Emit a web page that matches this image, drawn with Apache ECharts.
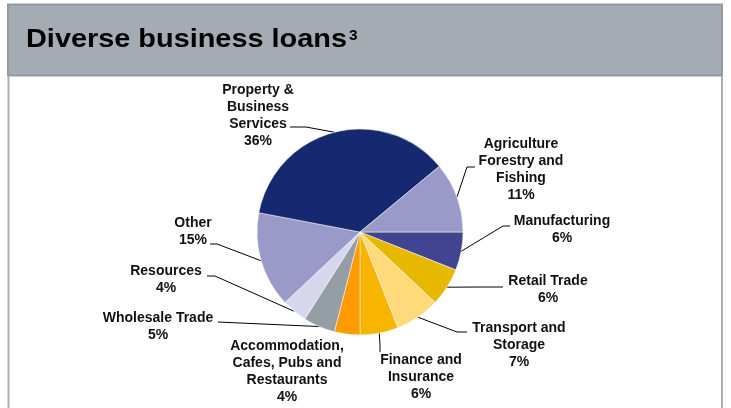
<!DOCTYPE html>
<html>
<head>
<meta charset="utf-8">
<script src="https://cdn.jsdelivr.net/npm/echarts@6/dist/echarts.min.js"></script>
<style>
html,body{margin:0;padding:0;background:#fff;}
#chart{width:731px;height:408px;}
</style>
</head>
<body>
<div id="chart"></div>
<script>
// ---- data ----
const categories = ['Manufacturing', 'Retail Trade', 'Transport and\nStorage', 'Finance and\nInsurance',
  'Accommodation,\nCafes, Pubs and\nRestaurants', 'Wholesale Trade', 'Resources', 'Other',
  'Property &\nBusiness\nServices', 'Agriculture\nForestry and\nFishing'];
const shares = [6, 6, 7, 6, 4, 5, 4, 15, 36, 11];
const titleText = 'Diverse business loans';
const titleNote = '3';

// ---- styles / layout ----
const colors = ['#414491', '#e6b800', '#ffd97a', '#f7b500', '#ff9a00', '#959ea4', '#d6d6ec', '#9a9ac8', '#16286f', '#9a9ac8'];
const labelPos = [[562,230],[548,290],[519,345],[421,377],[287,372],[158,327],[166,280],[193,232],[258,116],[521,170]];
const leader = [[503,226,510,226],[480,287,503,287],[457,332,467,332],[380,345,380,352],null,
  [240,323,218,322],[215,276,207,276],[217,244,210,244],[306,127,290,127],[467,167,475,167]];

const chart = echarts.init(document.getElementById('chart'), null, {renderer: 'canvas'});
const data = categories.map((c, i) => ({
  name: c,
  value: shares[i],
  itemStyle: {color: colors[i]},
  labelLine: {show: leader[i] !== null}
}));

chart.setOption({
  animation: false,
  backgroundColor: '#fff',
  graphic: [
    {type: 'rect', shape: {x: 8, y: 4.5, width: 714, height: 71}, style: {fill: '#a4abb2', stroke: '#939ba2', lineWidth: 2}, z: 0},
    {type: 'line', shape: {x1: 8.5, y1: 76, x2: 8.5, y2: 410}, style: {stroke: '#a9afb5', lineWidth: 2}},
    {type: 'line', shape: {x1: 722, y1: 76, x2: 722, y2: 410}, style: {stroke: '#a9afb5', lineWidth: 2}},
    {type: 'text', x: 26, y: 40, scaleX: 1.155, style: {text: titleText, font: 'bold 25px "Liberation Sans", Arial, sans-serif', fill: '#000', verticalAlign: 'middle', align: 'left'}},
    {type: 'text', x: 349, y: 29, scaleX: 1.1, style: {text: titleNote, font: 'bold 14px "Liberation Sans", Arial, sans-serif', fill: '#000', verticalAlign: 'top', align: 'left'}}
  ],
  series: [{
    type: 'pie',
    center: [360, 232],
    radius: 103,
    startAngle: 0,
    clockwise: true,
    avoidLabelOverlap: false,
    itemStyle: {borderColor: '#ffffff', borderWidth: 0.5},
    label: {
      show: true,
      position: 'outside',
      formatter: '{b}\n{c}%',
      fontFamily: '"Liberation Sans", Arial, sans-serif',
      fontWeight: 'bold',
      fontSize: 14,
      lineHeight: 17,
      color: '#111',
      align: 'center'
    },
    labelLine: {show: true, length: 10, length2: 10, lineStyle: {color: '#000', width: 1}},
    emphasis: {disabled: true},
    labelLayout: function (p) {
      const i = p.dataIndex;
      const res = {x: labelPos[i][0], y: labelPos[i][1], align: 'center', verticalAlign: 'middle'};
      const L = leader[i];
      if (L && p.labelLinePoints) {
        const a = p.labelLinePoints[0];
        res.labelLinePoints = [[a[0], a[1]], [L[0], L[1]], [L[2], L[3]]];
      }
      return res;
    },
    data: data
  }]
});
</script>
</body>
</html>
